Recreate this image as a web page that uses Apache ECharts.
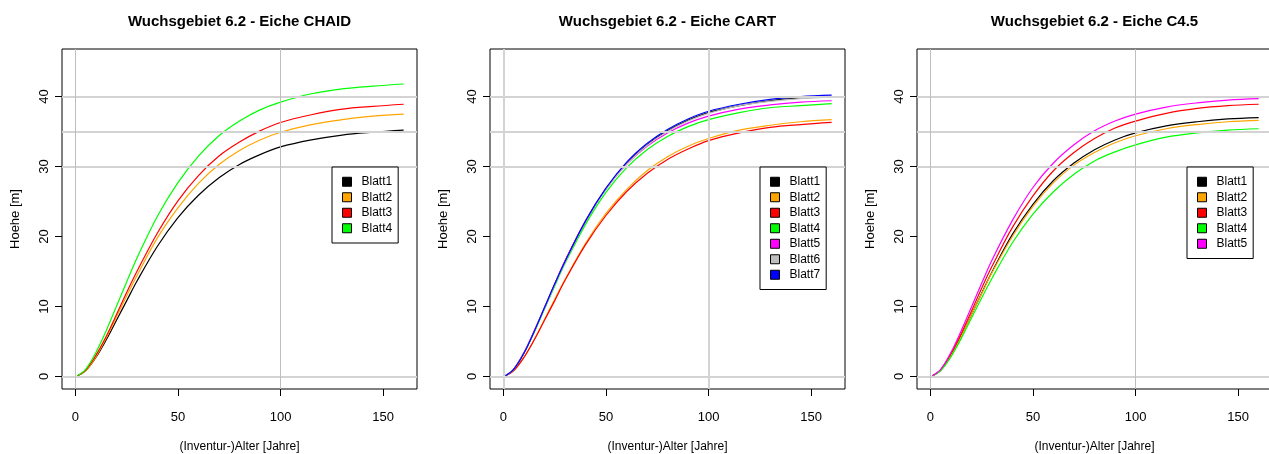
<!DOCTYPE html>
<html>
<head>
<meta charset="utf-8">
<title>Wuchsgebiet 6.2 - Eiche</title>
<script src="https://cdn.jsdelivr.net/npm/echarts@6.0.0/dist/echarts.min.js"></script>
<style>
  html, body { margin: 0; padding: 0; background: #fff; }
  #chart { width: 1269px; height: 454px; }
</style>
</head>
<body>
<div id="chart"></div>
<script>
// Stuetzstellen (Alter in Jahren)
var alter = [1, 5, 10, 15, 20, 25, 30, 40, 50, 60, 70, 80, 90, 100, 115, 130, 145, 160];

// CHAID
var chaid1 = [0.1, 0.8, 2.7, 5.2, 8.0, 10.8, 13.6, 18.6, 22.7, 25.9, 28.4, 30.3, 31.7, 32.8, 33.8, 34.5, 34.9, 35.2];
var chaid2 = [0.1, 0.8, 2.8, 5.5, 8.5, 11.5, 14.4, 19.8, 24.1, 27.6, 30.3, 32.3, 33.8, 34.9, 36.0, 36.7, 37.2, 37.5];
var chaid3 = [0.1, 0.9, 3.0, 5.7, 8.8, 12.0, 15.0, 20.5, 25.1, 28.7, 31.5, 33.5, 35.1, 36.3, 37.4, 38.2, 38.6, 38.9];
var chaid4 = [0.1, 1.0, 3.4, 6.5, 10.0, 13.5, 16.9, 22.9, 27.7, 31.5, 34.4, 36.5, 38.1, 39.2, 40.4, 41.1, 41.5, 41.8];

// CART
var cart1 = [0.1, 1.0, 3.3, 6.4, 9.7, 13.1, 16.4, 22.1, 26.8, 30.4, 33.1, 35.1, 36.6, 37.7, 38.7, 39.4, 39.8, 40.0];
var cart2 = [0.1, 0.8, 2.7, 5.2, 8.1, 11.0, 13.8, 19.0, 23.3, 26.7, 29.4, 31.4, 32.9, 34.0, 35.2, 35.9, 36.4, 36.7];
var cart3 = [0.1, 0.8, 2.7, 5.2, 8.0, 10.8, 13.7, 18.8, 23.0, 26.4, 29.0, 31.0, 32.5, 33.7, 34.8, 35.6, 36.0, 36.3];
var cart4 = [0.1, 1.0, 3.3, 6.3, 9.6, 12.9, 16.1, 21.7, 26.3, 29.8, 32.4, 34.3, 35.7, 36.7, 37.7, 38.4, 38.7, 39.0];
var cart5 = [0.1, 1.0, 3.4, 6.5, 9.8, 13.2, 16.5, 22.2, 26.8, 30.3, 32.9, 34.8, 36.2, 37.2, 38.2, 38.8, 39.2, 39.4];
var cart6 = [0.1, 1.0, 3.3, 6.4, 9.7, 13.1, 16.3, 22.1, 26.7, 30.3, 33.0, 35.0, 36.5, 37.6, 38.7, 39.3, 39.7, 39.9];
var cart7 = [0.1, 1.0, 3.3, 6.4, 9.8, 13.2, 16.4, 22.2, 26.9, 30.6, 33.3, 35.3, 36.8, 37.9, 38.9, 39.6, 40.0, 40.2];

// C4.5
var c45_1 = [0.1, 0.9, 3.0, 5.8, 8.8, 11.9, 14.9, 20.3, 24.6, 28.0, 30.5, 32.4, 33.8, 34.8, 35.8, 36.4, 36.8, 37.0];
var c45_2 = [0.1, 0.9, 3.0, 5.7, 8.8, 11.8, 14.8, 20.0, 24.3, 27.7, 30.2, 32.0, 33.4, 34.4, 35.4, 36.0, 36.4, 36.6];
var c45_3 = [0.1, 0.9, 3.2, 6.1, 9.3, 12.6, 15.7, 21.3, 25.8, 29.4, 32.0, 34.0, 35.5, 36.5, 37.6, 38.3, 38.7, 38.9];
var c45_4 = [0.1, 0.8, 2.8, 5.4, 8.3, 11.2, 14.0, 19.1, 23.2, 26.4, 28.9, 30.8, 32.1, 33.1, 34.2, 34.8, 35.2, 35.4];
var c45_5 = [0.1, 1.0, 3.4, 6.5, 9.9, 13.3, 16.6, 22.3, 27.0, 30.5, 33.1, 35.1, 36.5, 37.5, 38.5, 39.1, 39.5, 39.7];

// Achsen / Gitter
var xTicks = [0, 50, 100, 150];
var yTicks = [0, 10, 20, 30, 40];
var hLines = [0, 30, 35, 40];
var vLines = [0, 100];

var blattNamen = ['Blatt1', 'Blatt2', 'Blatt3', 'Blatt4', 'Blatt5', 'Blatt6', 'Blatt7'];
var farben = ['#000000', '#FFA500', '#FF0000', '#00FF00', '#FF00FF', '#BEBEBE', '#0000FF'];

var panels = [
  { title: 'Wuchsgebiet 6.2 - Eiche CHAID', left: 62, legendLeft: 332, data: [chaid1, chaid2, chaid3, chaid4] },
  { title: 'Wuchsgebiet 6.2 - Eiche CART', left: 490, legendLeft: 760, data: [cart1, cart2, cart3, cart4, cart5, cart6, cart7] },
  { title: 'Wuchsgebiet 6.2 - Eiche C4.5', left: 917, legendLeft: 1187, data: [c45_1, c45_2, c45_3, c45_4, c45_5] }
];

var font = '"Liberation Sans", Arial, Helvetica, sans-serif';
var boxW = 355, boxH = 340, boxTop = 49;

function pairs(ys) {
  return alter.map(function (a, i) { return [a, ys[i]]; });
}

var option = {
  animation: false,
  backgroundColor: '#fff',
  textStyle: { fontFamily: font, color: '#000' },
  title: [], grid: [], xAxis: [], yAxis: [], legend: [], series: []
};

panels.forEach(function (p, i) {
  option.title.push({
    text: p.title,
    left: p.left + boxW / 2,
    top: 14,
    padding: 0,
    textAlign: 'center',
    textStyle: { fontFamily: font, fontSize: 15, fontWeight: 'bold', color: '#000' }
  });
  option.grid.push({
    left: p.left, top: boxTop, width: boxW, height: boxH,
    outerBoundsMode: 'none', containLabel: false,
    show: true, borderColor: '#000', borderWidth: 1, backgroundColor: 'transparent'
  });
  option.xAxis.push({
    gridIndex: i, type: 'value', min: -6.5, max: 166.5,
    axisLine: { show: false, onZero: false },
    splitLine: { show: false },
    axisTick: { show: true, customValues: xTicks, length: 7, lineStyle: { color: '#000' } },
    axisLabel: { customValues: xTicks, margin: 22, fontSize: 13, color: '#000', fontFamily: font },
    name: '(Inventur-)Alter [Jahre]', nameLocation: 'middle', nameGap: 52,
    nameTextStyle: { fontSize: 12, color: '#000', fontFamily: font }
  });
  option.yAxis.push({
    gridIndex: i, type: 'value', min: -1.8, max: 46.8,
    axisLine: { show: false, onZero: false },
    splitLine: { show: false },
    axisTick: { show: true, customValues: yTicks, length: 7, lineStyle: { color: '#000' } },
    axisLabel: { customValues: yTicks, rotate: 90, margin: 11, fontSize: 13, color: '#000', fontFamily: font },
    name: 'Hoehe [m]', nameLocation: 'middle', nameGap: 40,
    nameTextStyle: { fontSize: 13, color: '#000', fontFamily: font }
  });

  // Gitterlinien (abline)
  var ml = [];
  hLines.forEach(function (v) { ml.push({ yAxis: v, lineStyle: { color: '#D3D3D3', width: 2, type: 'solid' } }); });
  vLines.forEach(function (v) {
    ml.push({ xAxis: v, lineStyle: i == 1 ? { color: '#D3D3D3', width: 2, type: 'solid' } : { color: '#BEBEBE', width: 1, type: 'solid' } });
  });
  option.series.push({
    type: 'line', xAxisIndex: i, yAxisIndex: i, data: [], z: 1, silent: true,
    markLine: { silent: true, symbol: 'none', label: { show: false }, animation: false, data: ml }
  });

  var namen = [];
  p.data.forEach(function (ys, j) {
    namen.push(blattNamen[j]);
    option.series.push({
      name: blattNamen[j], type: 'line', xAxisIndex: i, yAxisIndex: i, z: 2,
      data: pairs(ys), smooth: 0.35,
      symbol: 'none', showSymbol: false, color: farben[j],
      lineStyle: { color: farben[j], width: 1.2 }
    });
  });

  option.legend.push({
    orient: 'vertical', left: p.legendLeft, top: 167, z: 20,
    data: namen, icon: 'rect', itemWidth: 9, itemHeight: 9, itemGap: 0,
    selectedMode: false,
    padding: [7, 6, 7, 10],
    backgroundColor: '#fff',
    borderColor: '#000', borderWidth: 1,
    itemStyle: { borderColor: '#000', borderWidth: 1 },
    textStyle: { fontFamily: font, fontSize: 12, color: '#000', lineHeight: 15.5, padding: [0, 0, 0, 5] }
  });
});

var chart = echarts.init(document.getElementById('chart'));
chart.setOption(option);
</script>
</body>
</html>
